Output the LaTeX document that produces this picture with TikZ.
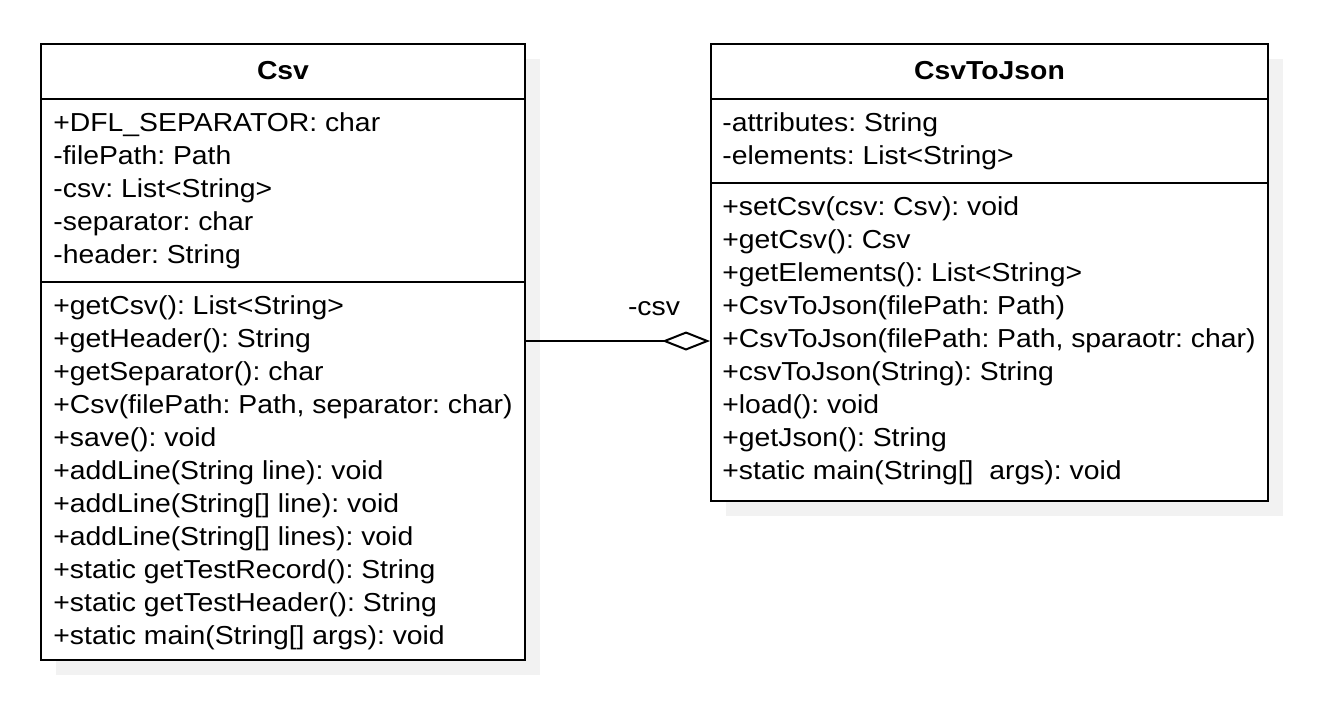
\documentclass[tikz,border=0pt]{standalone}
\usepackage{fontspec}
\setmainfont{Liberation Sans}[FakeStretch=1.09]
\usetikzlibrary{arrows.meta}
\definecolor{shadowgray}{HTML}{F2F2F2}
\frenchspacing
\begin{document}
\begin{tikzpicture}[x=0.5pt,y=-0.5pt,
  classbox/.style={draw=black, line width=1pt, fill=white, rectangle, inner sep=0pt},
  shadowbox/.style={fill=shadowgray, draw=none, rectangle, inner sep=0pt},
  sep/.style={draw=black, line width=1pt},
  member/.style={anchor=base west, inner sep=0pt, font=\fontsize{13}{15}\selectfont},
  title/.style={inner sep=0pt, font=\fontsize{13}{15}\selectfont\bfseries},
  lbl/.style={inner sep=0pt, font=\fontsize{13}{15}\selectfont},
  conn/.style={draw=black, line width=1pt}
]
\useasboundingbox (0,0) rectangle (1324,708);
% shadows
\node[shadowbox, minimum width=242pt, minimum height=308pt] (csvsh) at (298,367) {};
\node[shadowbox, minimum width=278.5pt, minimum height=228.5pt] (cjsh) at (1004.5,287.5) {};
% boxes
\node[classbox, minimum width=242pt, minimum height=308pt] (csv) at (283,352) {};
\node[classbox, minimum width=278.5pt, minimum height=228.5pt] (cj) at (989.5,272.5) {};
% separators
\draw[sep] (csv.west |- 0,99) -- (csv.east |- 0,99);
\draw[sep] (csv.west |- 0,282) -- (csv.east |- 0,282);
\draw[sep] (cj.west |- 0,99) -- (cj.east |- 0,99);
\draw[sep] (cj.west |- 0,183) -- (cj.east |- 0,183);
% titles
\node[title] (csvtitle) at (283,71) {Csv};
\node[title] (cjtitle) at (989.5,71) {CsvToJson};
% Csv attributes
\node[member] (a1) at (53,131.5) {+DFL\_SEPARATOR: char};
\node[member] (a2) at (53,164.5) {-filePath: Path};
\node[member] (a3) at (53,197.5) {-csv: List<String>};
\node[member] (a4) at (53,230.5) {-separator: char};
\node[member] (a5) at (53,263.5) {-header: String};
% Csv methods
\node[member] (m1) at (53,314.5) {+getCsv(): List<String>};
\node[member] (m2) at (53,347.5) {+getHeader(): String};
\node[member] (m3) at (53,380.5) {+getSeparator(): char};
\node[member] (m4) at (53,413.5) {+Csv(filePath: Path, separator: char)};
\node[member] (m5) at (53,446.5) {+save(): void};
\node[member] (m6) at (53,479.5) {+addLine(String line): void};
\node[member] (m7) at (53,512.5) {+addLine(String[] line): void};
\node[member] (m8) at (53,545.5) {+addLine(String[] lines): void};
\node[member] (m9) at (53,578.5) {+static getTestRecord(): String};
\node[member] (m10) at (53,611.5) {+static getTestHeader(): String};
\node[member] (m11) at (53,644.5) {+static main(String[] args): void};
% CsvToJson attributes
\node[member] (b1) at (722,131.5) {-attributes: String};
\node[member] (b2) at (722,164.5) {-elements: List<String>};
% CsvToJson methods
\node[member] (n1) at (722,215.5) {+setCsv(csv: Csv): void};
\node[member] (n2) at (722,248.5) {+getCsv(): Csv};
\node[member] (n3) at (722,281.5) {+getElements(): List<String>};
\node[member] (n4) at (722,314.5) {+CsvToJson(filePath: Path)};
\node[member] (n5) at (722,347.5) {+CsvToJson(filePath: Path, sparaotr: char)};
\node[member] (n6) at (722,380.5) {+csvToJson(String): String};
\node[member] (n7) at (722,413.5) {+load(): void};
\node[member] (n8) at (722,446.5) {+getJson(): String};
\node[member] (n9) at (722,479.5) {+static main(String[]\ \ args): void};
% connector
\coordinate (ly) at (0,341);
\draw[conn, -{Diamond[open, fill=white, length=24pt, width=9.5pt, line width=1pt]}] (csv.east |- ly) -- (cj.west |- ly);
\node[lbl] (csvlbl) at (654,309) {-csv};
\end{tikzpicture}
\end{document}
